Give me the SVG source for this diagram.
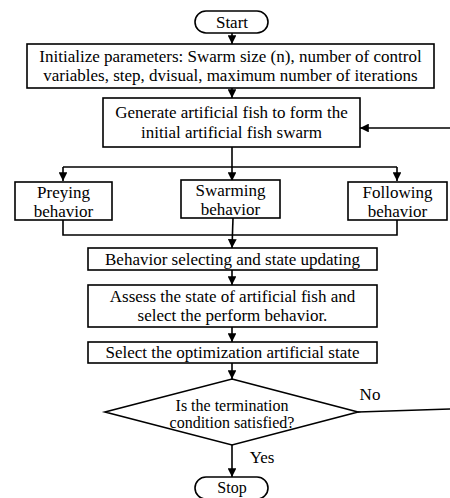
<svg xmlns="http://www.w3.org/2000/svg" width="450" height="498" viewBox="0 0 450 498">
<style>
.b{fill:#fff;stroke:#000;stroke-width:1.6}
.t{font-family:"Liberation Serif","Times New Roman","DejaVu Serif",serif;font-size:17px;fill:#000;text-anchor:middle}
.s{font-size:16px}
.c{fill:none;stroke:#000;stroke-width:1.6}
</style>
<defs>
<marker id="a" viewBox="0 0 10 10" refX="10" refY="5" markerWidth="5.5" markerHeight="5.5" orient="auto" markerUnits="strokeWidth">
<path d="M0,0L10,5L0,10z" fill="#000"/>
</marker>
</defs>
<rect width="450" height="498" fill="#fff"/>
<g id="connectors">
<path class="c" d="M232,33V44" marker-end="url(#a)"/>
<path class="c" d="M232,88V98" marker-end="url(#a)"/>
<path class="c" d="M450,128H360" marker-end="url(#a)"/>
<path class="c" d="M232,147V181" marker-end="url(#a)"/>
<path class="c" d="M63,167H397"/>
<path class="c" d="M63,167V181" marker-end="url(#a)"/>
<path class="c" d="M397,167V181" marker-end="url(#a)"/>
<path class="c" d="M63,220V235H397V220"/>
<path class="c" d="M233,218L232,248" marker-end="url(#a)"/>
<path class="c" d="M232,270V285" marker-end="url(#a)"/>
<path class="c" d="M232,327V342" marker-end="url(#a)"/>
<path class="c" d="M232,363V379" marker-end="url(#a)"/>
<path class="c" d="M358,412L450,409"/>
<path class="c" d="M232,445V477" marker-end="url(#a)"/>
<text class="t" x="370" y="400">No</text>
<text class="t" x="262" y="463">Yes</text>
</g>
<g id="start">
<rect class="b" x="195" y="11" width="73" height="22" rx="11"/>
<text class="t" x="232" y="28">Start</text>
</g>
<g id="init">
<rect class="b" x="27" y="44" width="407" height="44"/>
<text class="t" x="230.5" y="62">Initialize parameters: Swarm size (n), number of control</text>
<text class="t" x="230.5" y="81">variables, step, dvisual, maximum number of iterations</text>
</g>
<g id="generate">
<rect class="b" x="103" y="98" width="257" height="49"/>
<text class="t" x="231.5" y="118">Generate artificial fish to form the</text>
<text class="t" x="231.5" y="138">initial artificial fish swarm</text>
</g>
<g id="preying">
<rect class="b" x="15" y="182" width="97" height="38"/>
<text class="t" x="63.5" y="198">Preying</text>
<text class="t" x="63.5" y="217">behavior</text>
</g>
<g id="swarming">
<rect class="b" x="181" y="180" width="99" height="38"/>
<text class="t" x="230.5" y="196">Swarming</text>
<text class="t" x="230.5" y="215">behavior</text>
</g>
<g id="following">
<rect class="b" x="348" y="182" width="99" height="38"/>
<text class="t" x="397.5" y="198">Following</text>
<text class="t" x="397.5" y="217">behavior</text>
</g>
<g id="behavior">
<rect class="b" x="88" y="248" width="289" height="22"/>
<text class="t" x="232.5" y="265">Behavior selecting and state updating</text>
</g>
<g id="assess">
<rect class="b" x="88" y="285" width="289" height="42"/>
<text class="t" x="232.5" y="302">Assess the state of artificial fish and</text>
<text class="t" x="232.5" y="321">select the perform behavior.</text>
</g>
<g id="select">
<rect class="b" x="88" y="342" width="289" height="21"/>
<text class="t" x="232.5" y="358">Select the optimization artificial state</text>
</g>
<g id="decision">
<path class="b" d="M232,379L358,412L232,445L105,412z"/>
<text class="t s" x="232" y="411">Is the termination</text>
<text class="t s" x="232" y="428">condition satisfied?</text>
</g>
<g id="stop">
<rect class="b" x="195" y="477" width="73" height="22" rx="11"/>
<text class="t s" x="232" y="493">Stop</text>
</g>
</svg>
